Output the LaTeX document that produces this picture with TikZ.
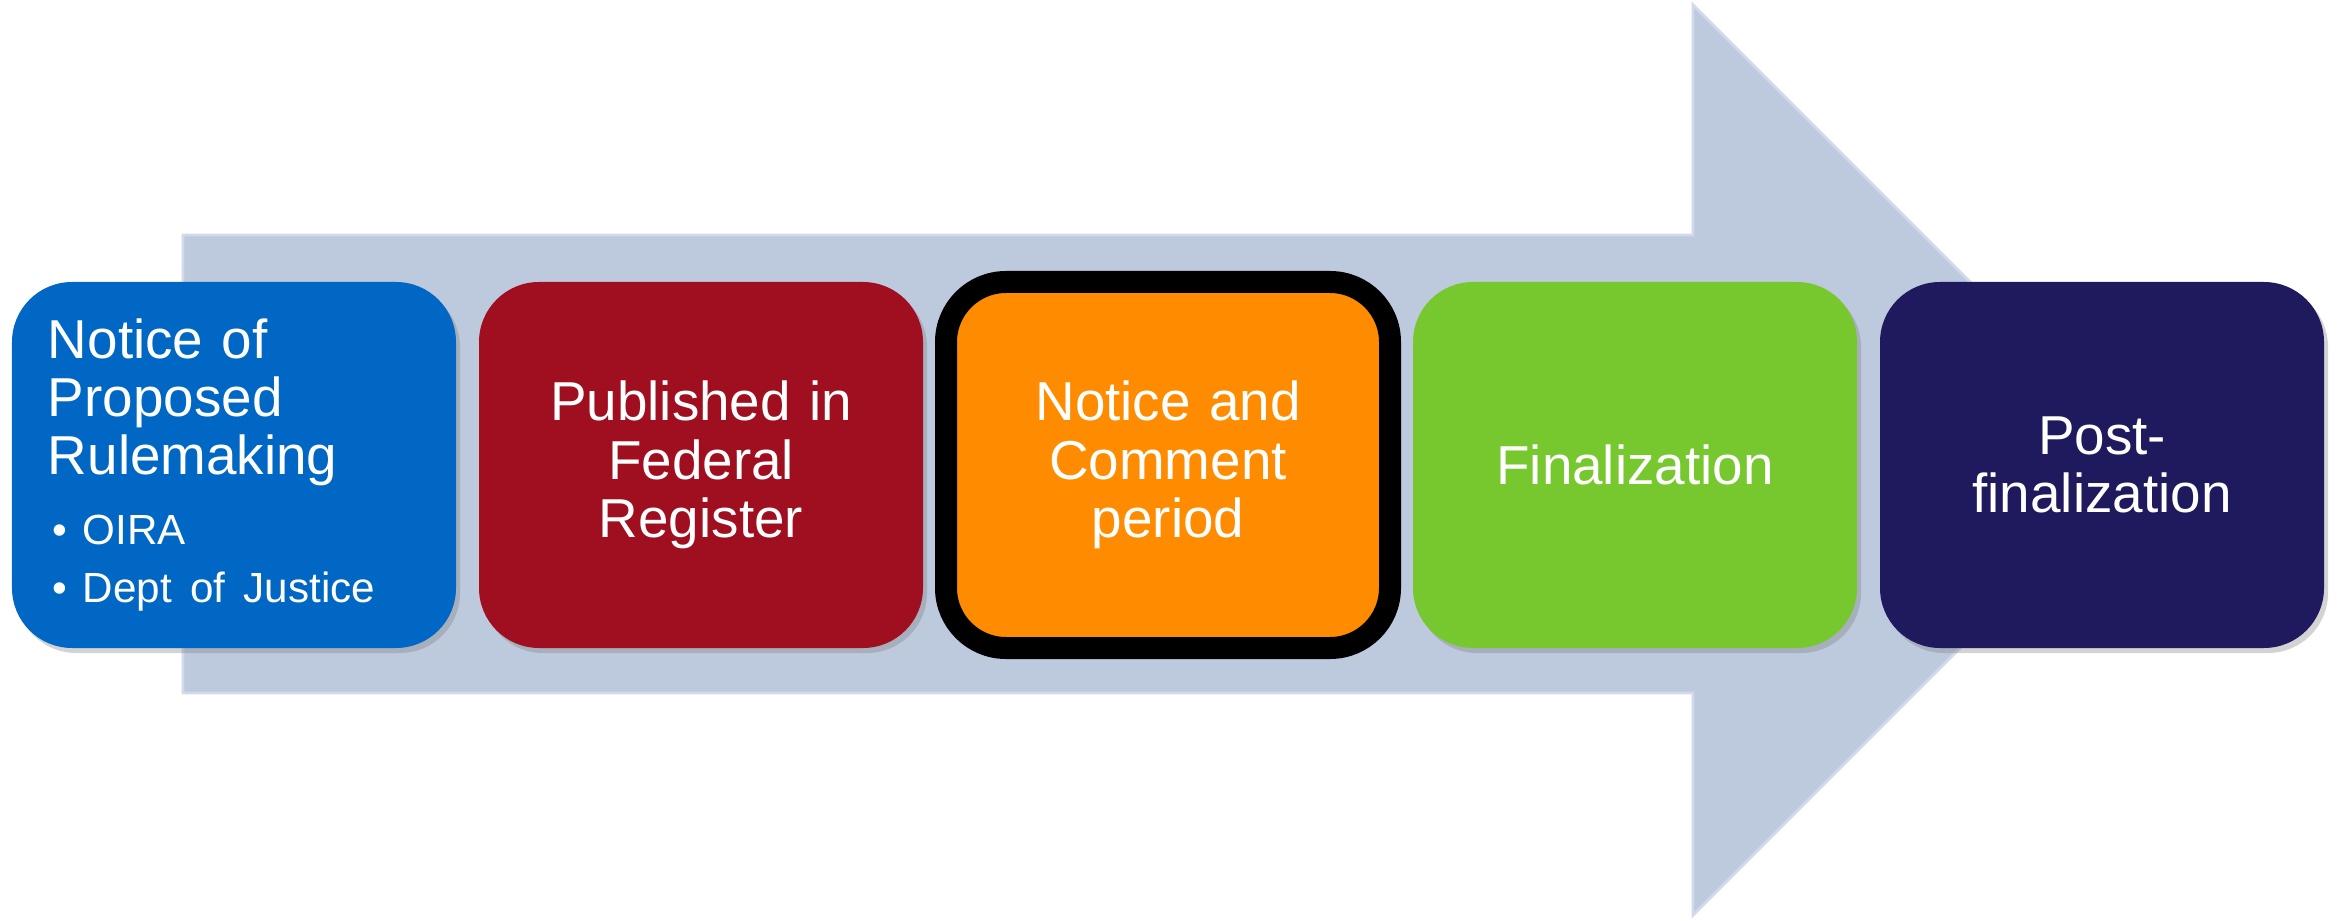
\documentclass[tikz,border=0pt]{standalone}
\usepackage{fontspec}
\setmainfont{Liberation Sans}
\usetikzlibrary{shadows}
\definecolor{arrowgrey}{RGB}{189,201,221}
\definecolor{arrowedge}{RGB}{208,218,234}
\definecolor{nprmblue}{RGB}{0,104,196}
\definecolor{fedred}{RGB}{160,15,32}
\definecolor{commentorange}{RGB}{255,140,0}
\definecolor{finalgreen}{RGB}{118,200,46}
\definecolor{postnavy}{RGB}{31,26,94}

\begin{document}
\begin{tikzpicture}[
  stagebox/.style={rounded corners=0.6cm, minimum width=4.44cm, minimum height=3.66cm,
    text width=4.0cm, align=center, inner sep=0pt, text=white,
    font=\fontsize{15.6}{16.6}\selectfont,
    drop shadow={opacity=0.35, shadow xshift=0.04cm, shadow yshift=-0.05cm}}
]
\useasboundingbox (0,0) rectangle (23.46,9.2);
% big arrow behind the stages
\filldraw [draw=arrowedge, fill=arrowgrey, line width=0.8pt] (1.83,2.27) -- (1.83,6.85) -- (16.93,6.85) -- (16.93,9.15) -- (21.48,4.6) -- (16.93,0.05) -- (16.93,2.27) -- cycle;
%\draw [black,very thick] (1.83,4.56) to (21.48,4.6);
\node [stagebox, fill=nprmblue, text width=3.72cm, align=left] (nprm) at (2.34,4.55)
  {Notice of\\ Proposed\\ Rulemaking\\[0.2cm]
   {\fontsize{12}{14.2}\selectfont\makebox[0.35cm][l]{\hspace{0.05cm}\textbullet}OIRA\\
   \makebox[0.35cm][l]{\hspace{0.05cm}\textbullet}Dept of Justice}};
\node [stagebox, fill=fedred] (fedreg) at (7.01,4.55) {Published in\\ Federal\\ Register};
\node [stagebox, fill=commentorange, draw=black, line width=0.22cm] (comment) at (11.68,4.55) {Notice and\\ Comment\\ period};
\node [stagebox, fill=finalgreen] (final) at (16.35,4.55) {Finalization};
\node [stagebox, fill=postnavy] (postfinal) at (21.02,4.55) {Post-\\ finalization};
\end{tikzpicture}
\end{document}
